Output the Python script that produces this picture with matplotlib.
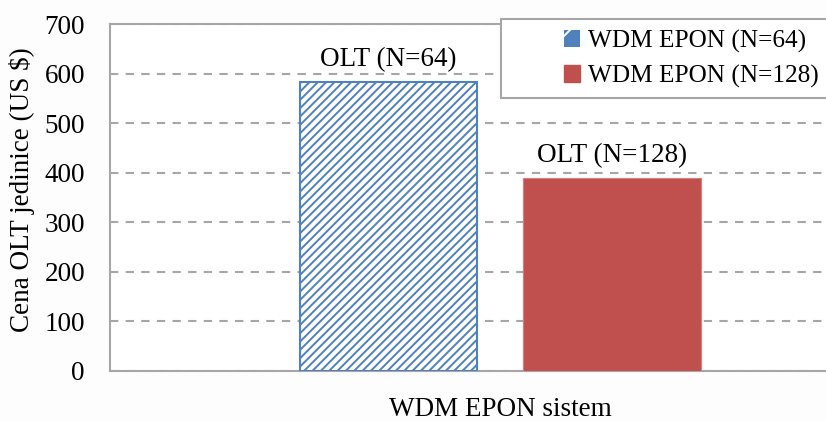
import matplotlib.pyplot as plt
from matplotlib.patches import Rectangle, Patch

plt.rcParams['font.family'] = ['Liberation Serif', 'DejaVu Serif']
plt.rcParams['hatch.linewidth'] = 1.4

series = ['WDM EPON (N=64)', 'WDM EPON (N=128)']
bar_labels = ['OLT (N=64)', 'OLT (N=128)']
prices = [583, 390]
category = 'WDM EPON sistem'

colors = ['#4F81BD', '#C0504D']
offsets = [-0.143, 0.1436]
width = 0.227
fs = 19.5

fig = plt.figure(figsize=(8.26, 4.21), dpi=100, facecolor='#fdfdfd')
# plot area runs past the right edge of the canvas
ax = fig.add_axes([110/826, 50/421, 780/826, 347/421])
ax.set_facecolor('white')

ax.bar(offsets[0], prices[0], width, facecolor='white', edgecolor=colors[0],
       hatch='////', linewidth=1.5, zorder=3)
ax.bar(offsets[1], prices[1], width, color=colors[1], edgecolor='#d87f7d',
       linewidth=0.8, zorder=3)
for i in range(2):
    ax.annotate(bar_labels[i], (offsets[i], prices[i]), xytext=(0, 7),
                textcoords='offset points', ha='center', va='bottom', fontsize=fs)

ax.set_xlim(-0.5, 0.5)
ax.set_ylim(0, 700)
ax.set_yticks(range(0, 701, 100))
ax.set_xticks([])
ax.tick_params(axis='y', length=0, pad=18, labelsize=fs)
ax.yaxis.grid(True, linestyle=(0, (4, 3.5)), color='#a6a6a6', linewidth=1.5, zorder=0)
ax.set_axisbelow(True)
for s in ax.spines.values():
    s.set_color('#a6a6a6')
    s.set_linewidth(1.5)

fig.text(22/826, 1 - 190/421, 'Cena OLT jedinice (US $)', rotation=90,
         ha='center', va='center', fontsize=fs)
fig.text(500/826, 1 - 410/421, category, ha='center', va='center', fontsize=fs)

# legend box
fig.patches.append(Rectangle((501/826, 1 - 98/421), 340/826, 79/421,
                             transform=fig.transFigure, facecolor='white',
                             edgecolor='#a6a6a6', linewidth=1.5, zorder=2))
handles = [Patch(facecolor=colors[0], edgecolor='white', hatch='/', linewidth=0),
           Patch(facecolor=colors[1], edgecolor=colors[1])]
leg = fig.legend(handles=handles, labels=series, loc='upper left',
                 bbox_to_anchor=(564/826, 1 - 30/421), frameon=False,
                 fontsize=18.2, handlelength=0.65, handleheight=0.65,
                 handletextpad=0.3, labelspacing=0.45, borderaxespad=0,
                 borderpad=0)
leg.set_zorder(5)

fig.savefig('out.png', dpi=100, facecolor=fig.get_facecolor())
